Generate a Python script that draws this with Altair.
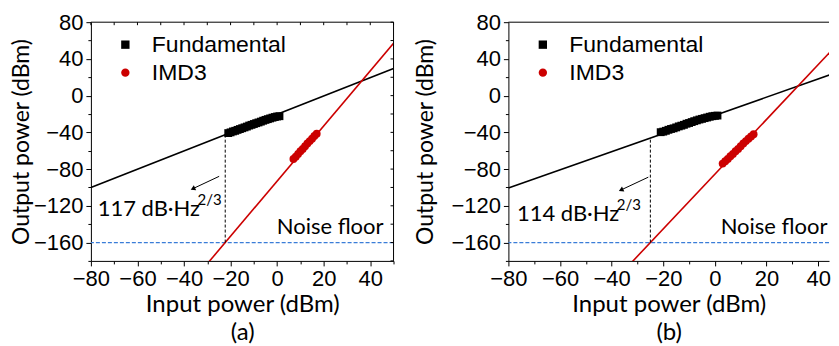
import altair as alt
import pandas as pd

# ---------------- data ----------------
# Panel (a)
a_fund_x = [-21, -20, -19, -18, -17, -16, -15, -14, -13, -12, -11, -10, -9, -8, -7, -6, -5, -4, -3, -2, -1, 0, 1]
a_fund_y = [-40.8, -40.0, -39.0, -38.3, -37.3, -36.4, -35.5, -34.6, -33.7, -32.6, -31.8, -30.9,
            -30.0, -29.2, -28.3, -27.3, -26.4, -25.6, -24.8, -24.0, -23.3, -22.7, -22.4]
a_imd_x = [7, 8, 9, 10, 11, 12, 13, 14, 15, 16, 17]
a_imd_y = [-69.0, -66.5, -63.5, -60.5, -58.0, -55.0, -52.0, -49.5, -47.0, -44.0, -41.5]
a_fund_line_x = [-80, 50]
a_fund_line_y = [-100.0, 29.5]
a_imd_line_x = [-35, 50]
a_imd_line_y = [-198.1, 57.0]
a_mark_x = [-22.3]
a_mark_y0 = [-160]
a_mark_y1 = [-42.5]
a_label = ["117 dB·Hz"]
a_label_x = [-77.1]
a_label_y = [-124.0]
a_arrow_x0, a_arrow_y0, a_arrow_x1, a_arrow_y1 = [-24.9], [-87.9], [-35.9], [-101.0]
a_nf_x, a_nf_y = [45.7], [-142.6]
a_x_max = 50          # panel (a) shows the full axis

# Panel (b) -- the original picture is cropped at its right edge
b_fund_x = [-21, -20, -19, -18, -17, -16, -15, -14, -13, -12, -11, -10, -9, -8, -7, -6, -5, -4, -3, -2, -1, 0, 1]
b_fund_y = [-39.8, -39.2, -38.3, -37.2, -36.3, -35.6, -34.6, -33.5, -32.7, -31.8, -30.6, -29.8,
            -28.8, -27.8, -26.9, -26.0, -25.3, -24.5, -23.8, -23.0, -22.4, -22.0, -21.7]
b_imd_x = [3, 4, 5, 6, 7, 8, 9, 10, 11, 12, 13, 14, 15]
b_imd_y = [-74.0, -71.5, -69.0, -66.0, -63.5, -60.5, -58.0, -55.0, -52.0, -49.5, -47.0, -44.5, -42.0]
b_fund_line_x = [-80, 50]
b_fund_line_y = [-100.5, 28.0]
b_imd_line_x = [-35, 50]
b_imd_line_y = [-189.8, 63.5]
b_mark_x = [-25.0]
b_mark_y0 = [-160]
b_mark_y1 = [-46.0]
b_label = ["114 dB·Hz"]
b_label_x = [-76.7]
b_label_y = [-129.0]
b_arrow_x0, b_arrow_y0, b_arrow_x1, b_arrow_y1 = [-25.8], [-88.8], [-36.1], [-102.4]
b_nf_x, b_nf_y = [43.6], [-142.7]
b_x_max = 44.2        # visible part of panel (b)

series_names = ["Fundamental", "IMD3"]
series_colors = ["#000000", "#cc0000"]
series_shapes = ["square", "circle"]
noise_floor = [-160]
x_ticks = list(range(-80, 51, 10))
y_ticks = list(range(-180, 81, 20))

TICK_FONT = "Liberation Sans"
TEXT_FONT = "Lato"


def make_panel(d, W, H, sub, ytitle_pad, right_frame, xmax):
    xt = [v for v in x_ticks if v <= xmax]
    xs = alt.Scale(domain=[-80, xmax], nice=False, zero=False)
    ys = alt.Scale(domain=[-180, 80], nice=False, zero=False)
    common = dict(grid=False, labelFont=TICK_FONT, labelFontSize=22, labelColor="#000000",
                  titleFont=TEXT_FONT, titleFontWeight="normal", titleColor="#000000",
                  tickColor="#000000", domainColor="#000000", domainWidth=1, tickWidth=1,
                  labelPadding=3, labelOverlap=False, labelFlush=False)
    xaxis = alt.Axis(values=xt,
                     labelExpr="datum.value % 20 === 0 ? datum.label : ''",
                     tickSize={"condition": {"test": "datum.value % 20 === 0", "value": 5}, "value": 3},
                     title=["Input power (dBm)", sub], titleFontSize=24, titleLineHeight=28,
                     titlePadding=3, **common)
    yaxis = alt.Axis(values=y_ticks,
                     labelExpr="datum.value % 40 === 0 ? datum.label : ''",
                     tickSize={"condition": {"test": "datum.value % 40 === 0", "value": 5}, "value": 3},
                     title="Output power (dBm)", titleFontSize=23, titlePadding=ytitle_pad, **common)

    def X(f):
        return alt.X(f, type="quantitative", scale=xs, axis=xaxis)

    def Y(f):
        return alt.Y(f, type="quantitative", scale=ys, axis=yaxis)

    nf = alt.Chart(pd.DataFrame({"y": noise_floor})).mark_rule(
        color="#3a7dd8", strokeDash=[4, 2], strokeWidth=1.2).encode(y=Y("y"))

    fline = alt.Chart(pd.DataFrame({"x": d["flx"], "y": d["fly"]})).mark_line(
        color="#000000", strokeWidth=1.6, clip=True).encode(x=X("x"), y=Y("y"))
    iline = alt.Chart(pd.DataFrame({"x": d["ilx"], "y": d["ily"]})).mark_line(
        color="#cc0000", strokeWidth=1.6, clip=True).encode(x=X("x"), y=Y("y"))

    marker = alt.Chart(pd.DataFrame({"x": d["mx"], "y0": d["my0"], "y1": d["my1"]})).mark_rule(
        color="#000000", strokeDash=[3, 2], strokeWidth=1).encode(x=X("x"), y=Y("y0"), y2="y1")

    pts_df = pd.DataFrame({
        "x": d["fx"] + d["ix"],
        "y": d["fy"] + d["iy"],
        "series": [series_names[0]] * len(d["fx"]) + [series_names[1]] * len(d["ix"]),
    })
    leg = alt.Legend(orient="none", legendX=23, legendY=11, title=None,
                     labelFont=TICK_FONT, labelFontSize=23, labelColor="#000000",
                     symbolSize=70, labelOffset=15, rowPadding=4, padding=0,
                     symbolStrokeWidth=0)
    pts = alt.Chart(pts_df).mark_point(filled=True, size=62, opacity=1).encode(
        x=X("x"), y=Y("y"),
        color=alt.Color("series:N", scale=alt.Scale(domain=series_names, range=series_colors), legend=leg),
        shape=alt.Shape("series:N", scale=alt.Scale(domain=series_names, range=series_shapes), legend=leg),
    )

    lab_df = pd.DataFrame({"x": d["lx"], "y": d["ly"], "t": d["label"]})
    lab = alt.Chart(lab_df).mark_text(align="left", baseline="middle", font=TEXT_FONT,
                                      fontSize=22, color="#000000").encode(x=X("x"), y=Y("y"), text="t:N")
    sup = alt.Chart(lab_df).mark_text(align="left", baseline="middle", font=TEXT_FONT,
                                      fontSize=15, color="#000000", dx=100, dy=-9).encode(
        x=X("x"), y=Y("y"), text=alt.value("2/3"))

    nf_txt = alt.Chart(pd.DataFrame({"x": d["nfx"], "y": d["nfy"]})).mark_text(
        align="right", baseline="middle", font=TEXT_FONT, fontSize=22, color="#000000").encode(
        x=X("x"), y=Y("y"), text=alt.value("Noise floor"))

    arr_df = pd.DataFrame({"x0": d["ax0"], "y0": d["ay0"], "x1": d["ax1"], "y1": d["ay1"]})
    arr = alt.Chart(arr_df).mark_rule(color="#000000", strokeWidth=1).encode(
        x=X("x0"), y=Y("y0"), x2="x1", y2="y1")
    head = alt.Chart(arr_df).mark_point(shape="triangle", filled=True, size=30, angle=245,
                                        color="#000000", opacity=1).encode(x=X("x1"), y=Y("y1"))

    top_border = alt.Chart(pd.DataFrame({"a": [0]})).mark_rule(color="#000000", strokeWidth=1).encode(
        x=alt.value(0), x2=alt.value(W), y=alt.value(0))
    layers = [nf, fline, iline, marker, pts, lab, sup, nf_txt, arr, head, top_border]
    if right_frame:
        top_ticks = alt.Chart(pd.DataFrame({"x": xt})).mark_rule(color="#000000", strokeWidth=1).encode(
            x=X("x"), y=alt.value(0), y2=alt.value(3))
        right_ticks = alt.Chart(pd.DataFrame({"y": y_ticks})).mark_rule(color="#000000", strokeWidth=1).encode(
            y=Y("y"), x=alt.value(W - 3), x2=alt.value(W))
        right_border = alt.Chart(pd.DataFrame({"a": [0]})).mark_rule(color="#000000", strokeWidth=1).encode(
            x=alt.value(W), y=alt.value(0), y2=alt.value(H))
        layers += [top_ticks, right_ticks, right_border]
    return alt.layer(*layers).properties(width=W, height=H)


A = dict(fx=a_fund_x, fy=a_fund_y, ix=a_imd_x, iy=a_imd_y, flx=a_fund_line_x, fly=a_fund_line_y,
         ilx=a_imd_line_x, ily=a_imd_line_y, mx=a_mark_x, my0=a_mark_y0, my1=a_mark_y1,
         label=a_label, lx=a_label_x, ly=a_label_y, ax0=a_arrow_x0, ay0=a_arrow_y0,
         ax1=a_arrow_x1, ay1=a_arrow_y1, nfx=a_nf_x, nfy=a_nf_y)
B = dict(fx=b_fund_x, fy=b_fund_y, ix=b_imd_x, iy=b_imd_y, flx=b_fund_line_x, fly=b_fund_line_y,
         ilx=b_imd_line_x, ily=b_imd_line_y, mx=b_mark_x, my0=b_mark_y0, my1=b_mark_y1,
         label=b_label, lx=b_label_x, ly=b_label_y, ax0=b_arrow_x0, ay0=b_arrow_y0,
         ax1=b_arrow_x1, ay1=b_arrow_y1, nfx=b_nf_x, nfy=b_nf_y)

pa = make_panel(A, 303, 239, "(a)", 0, True, a_x_max)
pb = make_panel(B, 321, 239, "(b)", 13, False, b_x_max)

chart = alt.hconcat(pa, pb, spacing=20).resolve_scale(
    x="independent", y="independent", color="independent", shape="independent"
).properties(
    padding={"left": 2, "top": 3, "right": 0, "bottom": 0},
    background="white",
).configure_view(stroke=None)

chart.save("out.html", embed_options={"renderer": "svg", "actions": False})
